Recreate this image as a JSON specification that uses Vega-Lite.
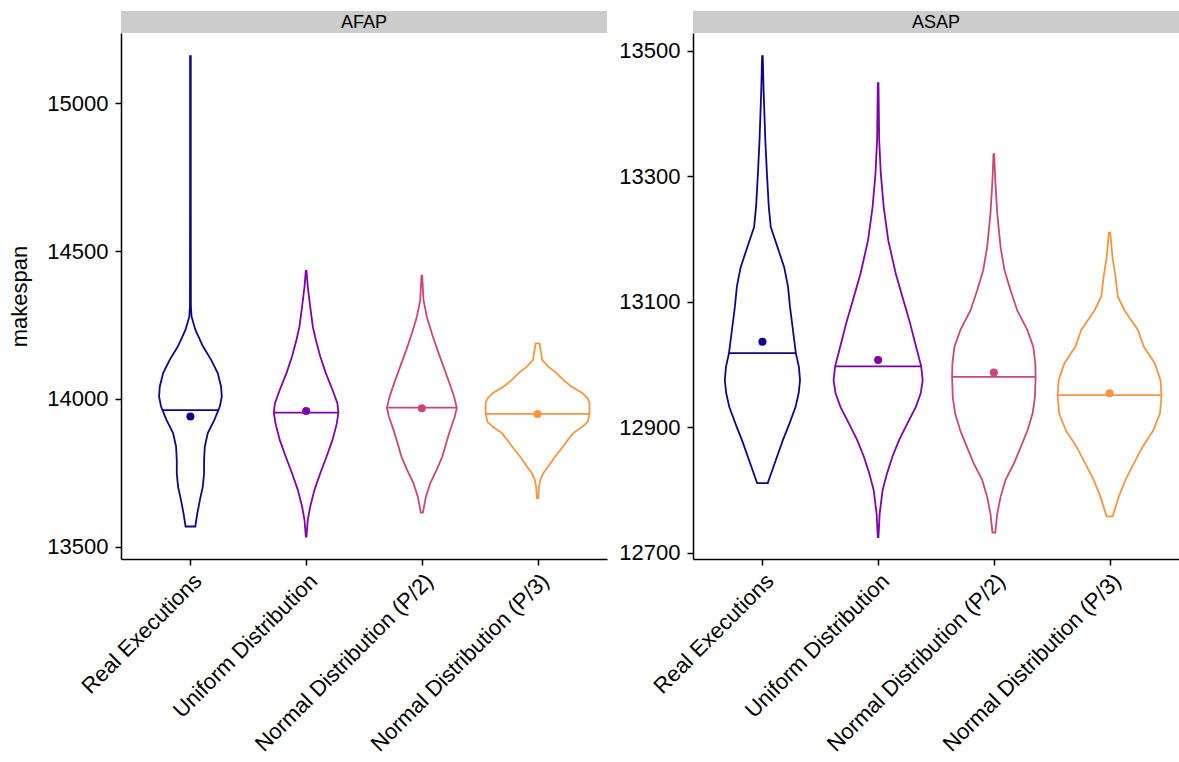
{
  "$schema": "https://vega.github.io/schema/vega-lite/v6.json",
  "background": "white",
  "padding": {"left": 8, "top": 11, "right": 0, "bottom": 0},
  "spacing": 11,
  "datasets": {
    "violin": [
      {"panel": "AFAP", "cat": "Real Executions", "y": 13568, "hw": 0.042},
      {"panel": "AFAP", "cat": "Real Executions", "y": 13613, "hw": 0.060},
      {"panel": "AFAP", "cat": "Real Executions", "y": 13658, "hw": 0.082},
      {"panel": "AFAP", "cat": "Real Executions", "y": 13703, "hw": 0.107},
      {"panel": "AFAP", "cat": "Real Executions", "y": 13748, "hw": 0.118},
      {"panel": "AFAP", "cat": "Real Executions", "y": 13793, "hw": 0.118},
      {"panel": "AFAP", "cat": "Real Executions", "y": 13838, "hw": 0.124},
      {"panel": "AFAP", "cat": "Real Executions", "y": 13884, "hw": 0.150},
      {"panel": "AFAP", "cat": "Real Executions", "y": 13929, "hw": 0.207},
      {"panel": "AFAP", "cat": "Real Executions", "y": 13974, "hw": 0.254},
      {"panel": "AFAP", "cat": "Real Executions", "y": 14007, "hw": 0.271},
      {"panel": "AFAP", "cat": "Real Executions", "y": 14041, "hw": 0.265},
      {"panel": "AFAP", "cat": "Real Executions", "y": 14087, "hw": 0.236},
      {"panel": "AFAP", "cat": "Real Executions", "y": 14132, "hw": 0.179},
      {"panel": "AFAP", "cat": "Real Executions", "y": 14177, "hw": 0.109},
      {"panel": "AFAP", "cat": "Real Executions", "y": 14233, "hw": 0.043},
      {"panel": "AFAP", "cat": "Real Executions", "y": 14278, "hw": 0.010},
      {"panel": "AFAP", "cat": "Real Executions", "y": 14312, "hw": 0.004},
      {"panel": "AFAP", "cat": "Real Executions", "y": 14700, "hw": 0.003},
      {"panel": "AFAP", "cat": "Real Executions", "y": 15160, "hw": 0.003},

      {"panel": "AFAP", "cat": "Uniform Distribution", "y": 13534, "hw": 0.003},
      {"panel": "AFAP", "cat": "Uniform Distribution", "y": 13590, "hw": 0.014},
      {"panel": "AFAP", "cat": "Uniform Distribution", "y": 13635, "hw": 0.035},
      {"panel": "AFAP", "cat": "Uniform Distribution", "y": 13692, "hw": 0.072},
      {"panel": "AFAP", "cat": "Uniform Distribution", "y": 13748, "hw": 0.122},
      {"panel": "AFAP", "cat": "Uniform Distribution", "y": 13804, "hw": 0.176},
      {"panel": "AFAP", "cat": "Uniform Distribution", "y": 13861, "hw": 0.228},
      {"panel": "AFAP", "cat": "Uniform Distribution", "y": 13917, "hw": 0.265},
      {"panel": "AFAP", "cat": "Uniform Distribution", "y": 13953, "hw": 0.279},
      {"panel": "AFAP", "cat": "Uniform Distribution", "y": 13985, "hw": 0.270},
      {"panel": "AFAP", "cat": "Uniform Distribution", "y": 14030, "hw": 0.228},
      {"panel": "AFAP", "cat": "Uniform Distribution", "y": 14087, "hw": 0.170},
      {"panel": "AFAP", "cat": "Uniform Distribution", "y": 14143, "hw": 0.122},
      {"panel": "AFAP", "cat": "Uniform Distribution", "y": 14199, "hw": 0.084},
      {"panel": "AFAP", "cat": "Uniform Distribution", "y": 14244, "hw": 0.058},
      {"panel": "AFAP", "cat": "Uniform Distribution", "y": 14312, "hw": 0.035},
      {"panel": "AFAP", "cat": "Uniform Distribution", "y": 14380, "hw": 0.014},
      {"panel": "AFAP", "cat": "Uniform Distribution", "y": 14433, "hw": 0.003},

      {"panel": "AFAP", "cat": "Normal Distribution (P/2)", "y": 13615, "hw": 0.009},
      {"panel": "AFAP", "cat": "Normal Distribution (P/2)", "y": 13669, "hw": 0.035},
      {"panel": "AFAP", "cat": "Normal Distribution (P/2)", "y": 13714, "hw": 0.072},
      {"panel": "AFAP", "cat": "Normal Distribution (P/2)", "y": 13759, "hw": 0.127},
      {"panel": "AFAP", "cat": "Normal Distribution (P/2)", "y": 13804, "hw": 0.176},
      {"panel": "AFAP", "cat": "Normal Distribution (P/2)", "y": 13850, "hw": 0.210},
      {"panel": "AFAP", "cat": "Normal Distribution (P/2)", "y": 13895, "hw": 0.245},
      {"panel": "AFAP", "cat": "Normal Distribution (P/2)", "y": 13940, "hw": 0.285},
      {"panel": "AFAP", "cat": "Normal Distribution (P/2)", "y": 13970, "hw": 0.302},
      {"panel": "AFAP", "cat": "Normal Distribution (P/2)", "y": 14007, "hw": 0.279},
      {"panel": "AFAP", "cat": "Normal Distribution (P/2)", "y": 14053, "hw": 0.239},
      {"panel": "AFAP", "cat": "Normal Distribution (P/2)", "y": 14109, "hw": 0.187},
      {"panel": "AFAP", "cat": "Normal Distribution (P/2)", "y": 14165, "hw": 0.135},
      {"panel": "AFAP", "cat": "Normal Distribution (P/2)", "y": 14222, "hw": 0.086},
      {"panel": "AFAP", "cat": "Normal Distribution (P/2)", "y": 14278, "hw": 0.043},
      {"panel": "AFAP", "cat": "Normal Distribution (P/2)", "y": 14335, "hw": 0.014},
      {"panel": "AFAP", "cat": "Normal Distribution (P/2)", "y": 14417, "hw": 0.003},

      {"panel": "AFAP", "cat": "Normal Distribution (P/3)", "y": 13664, "hw": 0.006},
      {"panel": "AFAP", "cat": "Normal Distribution (P/3)", "y": 13703, "hw": 0.012},
      {"panel": "AFAP", "cat": "Normal Distribution (P/3)", "y": 13726, "hw": 0.024},
      {"panel": "AFAP", "cat": "Normal Distribution (P/3)", "y": 13748, "hw": 0.049},
      {"panel": "AFAP", "cat": "Normal Distribution (P/3)", "y": 13771, "hw": 0.092},
      {"panel": "AFAP", "cat": "Normal Distribution (P/3)", "y": 13804, "hw": 0.150},
      {"panel": "AFAP", "cat": "Normal Distribution (P/3)", "y": 13838, "hw": 0.219},
      {"panel": "AFAP", "cat": "Normal Distribution (P/3)", "y": 13861, "hw": 0.262},
      {"panel": "AFAP", "cat": "Normal Distribution (P/3)", "y": 13884, "hw": 0.308},
      {"panel": "AFAP", "cat": "Normal Distribution (P/3)", "y": 13906, "hw": 0.389},
      {"panel": "AFAP", "cat": "Normal Distribution (P/3)", "y": 13923, "hw": 0.435},
      {"panel": "AFAP", "cat": "Normal Distribution (P/3)", "y": 13951, "hw": 0.449},
      {"panel": "AFAP", "cat": "Normal Distribution (P/3)", "y": 13985, "hw": 0.449},
      {"panel": "AFAP", "cat": "Normal Distribution (P/3)", "y": 14002, "hw": 0.432},
      {"panel": "AFAP", "cat": "Normal Distribution (P/3)", "y": 14019, "hw": 0.389},
      {"panel": "AFAP", "cat": "Normal Distribution (P/3)", "y": 14041, "hw": 0.294},
      {"panel": "AFAP", "cat": "Normal Distribution (P/3)", "y": 14064, "hw": 0.222},
      {"panel": "AFAP", "cat": "Normal Distribution (P/3)", "y": 14087, "hw": 0.164},
      {"panel": "AFAP", "cat": "Normal Distribution (P/3)", "y": 14109, "hw": 0.092},
      {"panel": "AFAP", "cat": "Normal Distribution (P/3)", "y": 14132, "hw": 0.040},
      {"panel": "AFAP", "cat": "Normal Distribution (P/3)", "y": 14188, "hw": 0.017},

      {"panel": "ASAP", "cat": "Real Executions", "y": 12811, "hw": 0.046},
      {"panel": "ASAP", "cat": "Real Executions", "y": 12831, "hw": 0.084},
      {"panel": "ASAP", "cat": "Real Executions", "y": 12853, "hw": 0.126},
      {"panel": "ASAP", "cat": "Real Executions", "y": 12879, "hw": 0.176},
      {"panel": "ASAP", "cat": "Real Executions", "y": 12906, "hw": 0.234},
      {"panel": "ASAP", "cat": "Real Executions", "y": 12932, "hw": 0.286},
      {"panel": "ASAP", "cat": "Real Executions", "y": 12954, "hw": 0.313},
      {"panel": "ASAP", "cat": "Real Executions", "y": 12975, "hw": 0.325},
      {"panel": "ASAP", "cat": "Real Executions", "y": 12996, "hw": 0.315},
      {"panel": "ASAP", "cat": "Real Executions", "y": 13018, "hw": 0.289},
      {"panel": "ASAP", "cat": "Real Executions", "y": 13060, "hw": 0.260},
      {"panel": "ASAP", "cat": "Real Executions", "y": 13092, "hw": 0.238},
      {"panel": "ASAP", "cat": "Real Executions", "y": 13124, "hw": 0.221},
      {"panel": "ASAP", "cat": "Real Executions", "y": 13155, "hw": 0.188},
      {"panel": "ASAP", "cat": "Real Executions", "y": 13187, "hw": 0.130},
      {"panel": "ASAP", "cat": "Real Executions", "y": 13219, "hw": 0.072},
      {"panel": "ASAP", "cat": "Real Executions", "y": 13251, "hw": 0.055},
      {"panel": "ASAP", "cat": "Real Executions", "y": 13304, "hw": 0.039},
      {"panel": "ASAP", "cat": "Real Executions", "y": 13357, "hw": 0.025},
      {"panel": "ASAP", "cat": "Real Executions", "y": 13437, "hw": 0.010},
      {"panel": "ASAP", "cat": "Real Executions", "y": 13491, "hw": 0.003},

      {"panel": "ASAP", "cat": "Uniform Distribution", "y": 12725, "hw": 0.003},
      {"panel": "ASAP", "cat": "Uniform Distribution", "y": 12762, "hw": 0.013},
      {"panel": "ASAP", "cat": "Uniform Distribution", "y": 12800, "hw": 0.039},
      {"panel": "ASAP", "cat": "Uniform Distribution", "y": 12826, "hw": 0.076},
      {"panel": "ASAP", "cat": "Uniform Distribution", "y": 12853, "hw": 0.123},
      {"panel": "ASAP", "cat": "Uniform Distribution", "y": 12879, "hw": 0.180},
      {"panel": "ASAP", "cat": "Uniform Distribution", "y": 12906, "hw": 0.253},
      {"panel": "ASAP", "cat": "Uniform Distribution", "y": 12932, "hw": 0.325},
      {"panel": "ASAP", "cat": "Uniform Distribution", "y": 12954, "hw": 0.368},
      {"panel": "ASAP", "cat": "Uniform Distribution", "y": 12975, "hw": 0.385},
      {"panel": "ASAP", "cat": "Uniform Distribution", "y": 12997, "hw": 0.372},
      {"panel": "ASAP", "cat": "Uniform Distribution", "y": 13028, "hw": 0.328},
      {"panel": "ASAP", "cat": "Uniform Distribution", "y": 13065, "hw": 0.277},
      {"panel": "ASAP", "cat": "Uniform Distribution", "y": 13102, "hw": 0.219},
      {"panel": "ASAP", "cat": "Uniform Distribution", "y": 13145, "hw": 0.152},
      {"panel": "ASAP", "cat": "Uniform Distribution", "y": 13198, "hw": 0.087},
      {"panel": "ASAP", "cat": "Uniform Distribution", "y": 13251, "hw": 0.048},
      {"panel": "ASAP", "cat": "Uniform Distribution", "y": 13304, "hw": 0.023},
      {"panel": "ASAP", "cat": "Uniform Distribution", "y": 13357, "hw": 0.009},
      {"panel": "ASAP", "cat": "Uniform Distribution", "y": 13448, "hw": 0.003},

      {"panel": "ASAP", "cat": "Normal Distribution (P/2)", "y": 12732, "hw": 0.012},
      {"panel": "ASAP", "cat": "Normal Distribution (P/2)", "y": 12762, "hw": 0.029},
      {"panel": "ASAP", "cat": "Normal Distribution (P/2)", "y": 12789, "hw": 0.058},
      {"panel": "ASAP", "cat": "Normal Distribution (P/2)", "y": 12816, "hw": 0.101},
      {"panel": "ASAP", "cat": "Normal Distribution (P/2)", "y": 12842, "hw": 0.173},
      {"panel": "ASAP", "cat": "Normal Distribution (P/2)", "y": 12869, "hw": 0.234},
      {"panel": "ASAP", "cat": "Normal Distribution (P/2)", "y": 12895, "hw": 0.291},
      {"panel": "ASAP", "cat": "Normal Distribution (P/2)", "y": 12922, "hw": 0.335},
      {"panel": "ASAP", "cat": "Normal Distribution (P/2)", "y": 12948, "hw": 0.355},
      {"panel": "ASAP", "cat": "Normal Distribution (P/2)", "y": 12980, "hw": 0.361},
      {"panel": "ASAP", "cat": "Normal Distribution (P/2)", "y": 13002, "hw": 0.358},
      {"panel": "ASAP", "cat": "Normal Distribution (P/2)", "y": 13028, "hw": 0.341},
      {"panel": "ASAP", "cat": "Normal Distribution (P/2)", "y": 13055, "hw": 0.289},
      {"panel": "ASAP", "cat": "Normal Distribution (P/2)", "y": 13086, "hw": 0.202},
      {"panel": "ASAP", "cat": "Normal Distribution (P/2)", "y": 13118, "hw": 0.144},
      {"panel": "ASAP", "cat": "Normal Distribution (P/2)", "y": 13150, "hw": 0.092},
      {"panel": "ASAP", "cat": "Normal Distribution (P/2)", "y": 13187, "hw": 0.058},
      {"panel": "ASAP", "cat": "Normal Distribution (P/2)", "y": 13241, "hw": 0.029},
      {"panel": "ASAP", "cat": "Normal Distribution (P/2)", "y": 13294, "hw": 0.012},
      {"panel": "ASAP", "cat": "Normal Distribution (P/2)", "y": 13335, "hw": 0.003},

      {"panel": "ASAP", "cat": "Normal Distribution (P/3)", "y": 12758, "hw": 0.026},
      {"panel": "ASAP", "cat": "Normal Distribution (P/3)", "y": 12789, "hw": 0.079},
      {"panel": "ASAP", "cat": "Normal Distribution (P/3)", "y": 12816, "hw": 0.137},
      {"panel": "ASAP", "cat": "Normal Distribution (P/3)", "y": 12842, "hw": 0.209},
      {"panel": "ASAP", "cat": "Normal Distribution (P/3)", "y": 12869, "hw": 0.286},
      {"panel": "ASAP", "cat": "Normal Distribution (P/3)", "y": 12895, "hw": 0.378},
      {"panel": "ASAP", "cat": "Normal Distribution (P/3)", "y": 12922, "hw": 0.436},
      {"panel": "ASAP", "cat": "Normal Distribution (P/3)", "y": 12951, "hw": 0.449},
      {"panel": "ASAP", "cat": "Normal Distribution (P/3)", "y": 12975, "hw": 0.440},
      {"panel": "ASAP", "cat": "Normal Distribution (P/3)", "y": 13002, "hw": 0.390},
      {"panel": "ASAP", "cat": "Normal Distribution (P/3)", "y": 13028, "hw": 0.296},
      {"panel": "ASAP", "cat": "Normal Distribution (P/3)", "y": 13055, "hw": 0.245},
      {"panel": "ASAP", "cat": "Normal Distribution (P/3)", "y": 13086, "hw": 0.130},
      {"panel": "ASAP", "cat": "Normal Distribution (P/3)", "y": 13108, "hw": 0.072},
      {"panel": "ASAP", "cat": "Normal Distribution (P/3)", "y": 13140, "hw": 0.051},
      {"panel": "ASAP", "cat": "Normal Distribution (P/3)", "y": 13171, "hw": 0.025},
      {"panel": "ASAP", "cat": "Normal Distribution (P/3)", "y": 13210, "hw": 0.006}
    ],
    "stats": [
      {"panel": "AFAP", "cat": "Real Executions", "median": 13962, "mhw": 0.242, "mean": 13940},
      {"panel": "AFAP", "cat": "Uniform Distribution", "median": 13953, "mhw": 0.279, "mean": 13959},
      {"panel": "AFAP", "cat": "Normal Distribution (P/2)", "median": 13970, "mhw": 0.302, "mean": 13968},
      {"panel": "AFAP", "cat": "Normal Distribution (P/3)", "median": 13949, "mhw": 0.449, "mean": 13949},
      {"panel": "ASAP", "cat": "Real Executions", "median": 13018, "mhw": 0.289, "mean": 13036},
      {"panel": "ASAP", "cat": "Uniform Distribution", "median": 12997, "mhw": 0.372, "mean": 13007},
      {"panel": "ASAP", "cat": "Normal Distribution (P/2)", "median": 12980, "mhw": 0.361, "mean": 12987},
      {"panel": "ASAP", "cat": "Normal Distribution (P/3)", "median": 12951, "mhw": 0.449, "mean": 12954}
    ]
  },
  "config": {
    "font": "Liberation Sans",
    "view": {"stroke": null},
    "axis": {
      "grid": false,
      "domainColor": "black",
      "domainWidth": 1.5,
      "tickColor": "black",
      "tickWidth": 1.5,
      "tickSize": 6,
      "labelColor": "black",
      "labelFont": "Liberation Sans",
      "labelFontSize": 22,
      "labelPadding": 7,
      "labelLimit": 400,
      "labelOverlap": false,
      "titleFont": "Liberation Sans",
      "titleFontSize": 22,
      "titleFontWeight": "normal",
      "titleColor": "black"
    }
  },
  "hconcat": [
    {
      "width": 486,
      "height": 526,
      "layer": [
        {
          "data": {"values": [{"panel": "AFAP"}]},
          "mark": {"type": "rect", "fill": "#CCCCCC"},
          "encoding": {
            "x": {"datum": 0.4, "type": "quantitative"},
            "x2": {"datum": 4.6},
            "y": {"value": -22},
            "y2": {"value": 0}
          }
        },
        {
          "data": {"values": [{"panel": "AFAP"}]},
          "mark": {"type": "text", "fontSize": 18, "color": "black", "baseline": "middle", "align": "center", "dy": 1},
          "encoding": {
            "x": {"datum": 2.5, "type": "quantitative"},
            "y": {"value": -11},
            "text": {"field": "panel"}
          }
        },
        {
          "data": {"name": "violin"},
          "transform": [
            {"filter": "datum.panel === 'AFAP'"},
            {"calculate": "indexof(['Real Executions','Uniform Distribution','Normal Distribution (P/2)','Normal Distribution (P/3)'], datum.cat) + 1", "as": "idx"},
            {"calculate": "datum.idx - datum.hw", "as": "lo"},
            {"calculate": "datum.idx + datum.hw", "as": "hi"}
          ],
          "mark": {"type": "area", "orient": "horizontal", "fillOpacity": 0, "strokeWidth": 1.8},
          "encoding": {
            "y": {"field": "y", "type": "quantitative", "scale": {"domain": [13458, 15238], "nice": false, "zero": false},
                  "axis": {"title": "makespan", "titleFontSize": 22, "titleFontWeight": "normal", "values": [13500, 14000, 14500, 15000], "format": "d", "titlePadding": 15}},
            "x": {"field": "lo", "type": "quantitative", "stack": null,
                  "scale": {"domain": [0.4, 4.6], "nice": false, "zero": false},
                  "axis": {"title": null, "values": [1, 2, 3, 4], "labelAngle": -45, "labelAlign": "right", "labelBaseline": "top", "labelPadding": 5,
                           "labelExpr": "['','Real Executions','Uniform Distribution','Normal Distribution (P/2)','Normal Distribution (P/3)'][datum.value]"}},
            "x2": {"field": "hi"},
            "stroke": {"field": "cat", "type": "nominal", "legend": null,
                       "scale": {"domain": ["Real Executions", "Uniform Distribution", "Normal Distribution (P/2)", "Normal Distribution (P/3)"],
                                 "range": ["#0D0887", "#7E03A8", "#CC4778", "#F89540"]}}
          }
        },
        {
          "data": {"name": "stats"},
          "transform": [
            {"filter": "datum.panel === 'AFAP'"},
            {"calculate": "indexof(['Real Executions','Uniform Distribution','Normal Distribution (P/2)','Normal Distribution (P/3)'], datum.cat) + 1", "as": "idx"},
            {"calculate": "datum.idx - datum.mhw", "as": "lo"},
            {"calculate": "datum.idx + datum.mhw", "as": "hi"}
          ],
          "mark": {"type": "rule", "strokeWidth": 1.8},
          "encoding": {
            "y": {"field": "median", "type": "quantitative"},
            "x": {"field": "lo", "type": "quantitative"},
            "x2": {"field": "hi"},
            "color": {"field": "cat", "type": "nominal", "legend": null,
                      "scale": {"domain": ["Real Executions", "Uniform Distribution", "Normal Distribution (P/2)", "Normal Distribution (P/3)"],
                                "range": ["#0D0887", "#7E03A8", "#CC4778", "#F89540"]}}
          }
        },
        {
          "data": {"name": "stats"},
          "transform": [
            {"filter": "datum.panel === 'AFAP'"},
            {"calculate": "indexof(['Real Executions','Uniform Distribution','Normal Distribution (P/2)','Normal Distribution (P/3)'], datum.cat) + 1", "as": "idx"}
          ],
          "mark": {"type": "point", "filled": true, "size": 65, "opacity": 1},
          "encoding": {
            "y": {"field": "mean", "type": "quantitative"},
            "x": {"field": "idx", "type": "quantitative"},
            "color": {"field": "cat", "type": "nominal", "legend": null}
          }
        }
      ]
    },
    {
      "width": 486,
      "height": 526,
      "layer": [
        {
          "data": {"values": [{"panel": "ASAP"}]},
          "mark": {"type": "rect", "fill": "#CCCCCC"},
          "encoding": {
            "x": {"datum": 0.4, "type": "quantitative"},
            "x2": {"datum": 4.6},
            "y": {"value": -22},
            "y2": {"value": 0}
          }
        },
        {
          "data": {"values": [{"panel": "ASAP"}]},
          "mark": {"type": "text", "fontSize": 18, "color": "black", "baseline": "middle", "align": "center", "dy": 1},
          "encoding": {
            "x": {"datum": 2.5, "type": "quantitative"},
            "y": {"value": -11},
            "text": {"field": "panel"}
          }
        },
        {
          "data": {"name": "violin"},
          "transform": [
            {"filter": "datum.panel === 'ASAP'"},
            {"calculate": "indexof(['Real Executions','Uniform Distribution','Normal Distribution (P/2)','Normal Distribution (P/3)'], datum.cat) + 1", "as": "idx"},
            {"calculate": "datum.idx - datum.hw", "as": "lo"},
            {"calculate": "datum.idx + datum.hw", "as": "hi"}
          ],
          "mark": {"type": "area", "orient": "horizontal", "fillOpacity": 0, "strokeWidth": 1.8},
          "encoding": {
            "y": {"field": "y", "type": "quantitative", "scale": {"domain": [12690, 13528], "nice": false, "zero": false},
                  "axis": {"title": null, "values": [12700, 12900, 13100, 13300, 13500], "format": "d"}},
            "x": {"field": "lo", "type": "quantitative", "stack": null,
                  "scale": {"domain": [0.4, 4.6], "nice": false, "zero": false},
                  "axis": {"title": null, "values": [1, 2, 3, 4], "labelAngle": -45, "labelAlign": "right", "labelBaseline": "top", "labelPadding": 5,
                           "labelExpr": "['','Real Executions','Uniform Distribution','Normal Distribution (P/2)','Normal Distribution (P/3)'][datum.value]"}},
            "x2": {"field": "hi"},
            "stroke": {"field": "cat", "type": "nominal", "legend": null,
                       "scale": {"domain": ["Real Executions", "Uniform Distribution", "Normal Distribution (P/2)", "Normal Distribution (P/3)"],
                                 "range": ["#0D0887", "#7E03A8", "#CC4778", "#F89540"]}}
          }
        },
        {
          "data": {"name": "stats"},
          "transform": [
            {"filter": "datum.panel === 'ASAP'"},
            {"calculate": "indexof(['Real Executions','Uniform Distribution','Normal Distribution (P/2)','Normal Distribution (P/3)'], datum.cat) + 1", "as": "idx"},
            {"calculate": "datum.idx - datum.mhw", "as": "lo"},
            {"calculate": "datum.idx + datum.mhw", "as": "hi"}
          ],
          "mark": {"type": "rule", "strokeWidth": 1.8},
          "encoding": {
            "y": {"field": "median", "type": "quantitative"},
            "x": {"field": "lo", "type": "quantitative"},
            "x2": {"field": "hi"},
            "color": {"field": "cat", "type": "nominal", "legend": null,
                      "scale": {"domain": ["Real Executions", "Uniform Distribution", "Normal Distribution (P/2)", "Normal Distribution (P/3)"],
                                "range": ["#0D0887", "#7E03A8", "#CC4778", "#F89540"]}}
          }
        },
        {
          "data": {"name": "stats"},
          "transform": [
            {"filter": "datum.panel === 'ASAP'"},
            {"calculate": "indexof(['Real Executions','Uniform Distribution','Normal Distribution (P/2)','Normal Distribution (P/3)'], datum.cat) + 1", "as": "idx"}
          ],
          "mark": {"type": "point", "filled": true, "size": 65, "opacity": 1},
          "encoding": {
            "y": {"field": "mean", "type": "quantitative"},
            "x": {"field": "idx", "type": "quantitative"},
            "color": {"field": "cat", "type": "nominal", "legend": null}
          }
        }
      ]
    }
  ],
  "resolve": {"scale": {"y": "independent", "x": "independent"}}
}
